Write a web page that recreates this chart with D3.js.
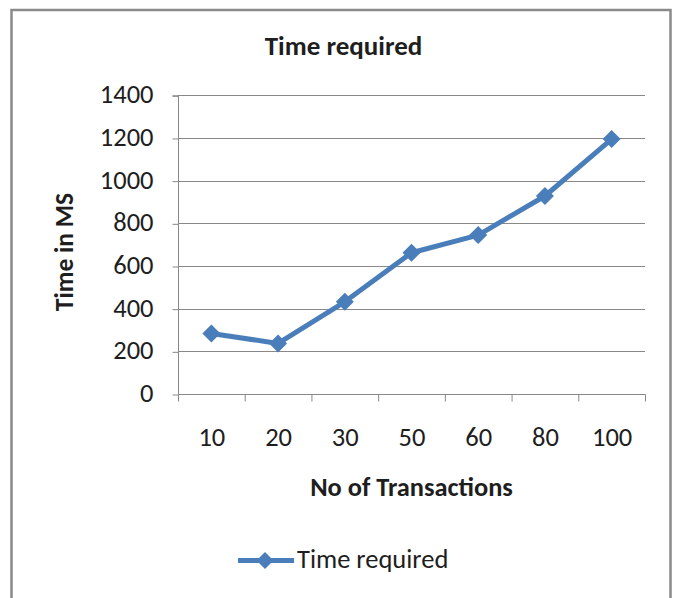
<!DOCTYPE html>
<html><head><meta charset="utf-8">
<script src="https://cdn.jsdelivr.net/npm/d3@7"></script>
<style>
html,body{margin:0;padding:0;background:#fff;}
svg{display:block;}
text{font-family:Carlito,"Liberation Sans Narrow","Liberation Sans",Arial,sans-serif;fill:#1e1e1e;}
</style></head>
<body>
<svg id="chart" width="674" height="598"></svg>
<script>
const categories = ["10","20","30","50","60","80","100"];
const timeRequired = [284, 237, 432, 662, 745, 928, 1195];
const yTicks = [0,200,400,600,800,1000,1200,1400];
const chartTitle = "Time required";
const xTitle = "No of Transactions";
const yTitle = "Time in MS";
const seriesName = "Time required";

const svg = d3.select("#chart");
const blue = "#4a7ebb";
const grid = "#888888";

// outer border
svg.append("rect").attr("x",11.5).attr("y",10).attr("width",659).attr("height",620)
  .attr("fill","none").attr("stroke","#8a8a8a").attr("stroke-width",2.5);

const L = 178, R = 645, T = 95.3, B = 394;
const x = d3.scaleBand().domain(categories).range([L,R]);
const y = d3.scaleLinear().domain([0,1400]).range([B,T]);

// gridlines
svg.append("g").selectAll("line").data(yTicks.filter(d=>d>0)).join("line")
  .attr("x1",L).attr("x2",R).attr("y1",d=>Math.round(y(d))+0.5).attr("y2",d=>Math.round(y(d))+0.5)
  .attr("stroke",grid).attr("stroke-width",1);

// y axis
const yAxis = d3.axisLeft(y).tickValues(yTicks).tickSize(6).tickPadding(19).tickFormat(d3.format("d"));
const gy = svg.append("g").attr("transform",`translate(${L+0.5},0.5)`).call(yAxis);
gy.select(".domain").attr("stroke",grid).attr("d",`M-6,${T}H0V${B}`);
gy.selectAll(".tick line").attr("stroke",grid);
gy.selectAll(".tick text").attr("font-size",26.5).attr("fill","#1e1e1e").attr("dy","0.27em");

// x axis
const gx = svg.append("g").attr("transform",`translate(0.5,${B+0.5})`);
gx.append("line").attr("x1",L).attr("x2",R).attr("stroke",grid);
const bounds = categories.map(c=>x(c)).concat([R]);
gx.selectAll(".tk").data(bounds).join("line").attr("class","tk")
  .attr("x1",d=>d).attr("x2",d=>d).attr("y1",0).attr("y2",7).attr("stroke",grid);
gx.selectAll(".lbl").data(categories).join("text").attr("class","lbl")
  .attr("x",d=>x(d)+x.bandwidth()/2).attr("y",51).attr("text-anchor","middle")
  .attr("font-size",26.5).text(d=>d);

// line
const line = d3.line().x((d,i)=>x(categories[i])+x.bandwidth()/2).y(d=>y(d));
svg.append("path").datum(timeRequired).attr("d",line)
  .attr("fill","none").attr("stroke",blue).attr("stroke-width",5).attr("stroke-linejoin","round");

const diamond = (cx,cy,r)=>`M${cx},${cy-r}L${cx+r},${cy}L${cx},${cy+r}L${cx-r},${cy}Z`;
svg.append("g").selectAll("path").data(timeRequired).join("path")
  .attr("d",(d,i)=>diamond(x(categories[i])+x.bandwidth()/2, y(d), 9))
  .attr("fill",blue);

// titles
svg.append("text").attr("x",343.5).attr("y",55).attr("text-anchor","middle")
  .attr("font-size",27).attr("font-weight","bold").attr("fill","#000").text(chartTitle);
svg.append("text").attr("x",411.5).attr("y",496).attr("text-anchor","middle")
  .attr("font-size",26.4).attr("font-weight","bold").attr("fill","#000").text(xTitle);
svg.append("text").attr("transform","translate(73,252) rotate(-90)").attr("text-anchor","middle")
  .attr("font-size",25.5).attr("font-weight","bold").attr("fill","#000").text(yTitle);

// legend
svg.append("line").attr("x1",238).attr("x2",294).attr("y1",560.5).attr("y2",560.5)
  .attr("stroke",blue).attr("stroke-width",5);
svg.append("path").attr("d",diamond(265,560.5,8.5)).attr("fill",blue);
svg.append("text").attr("x",297).attr("y",568).attr("font-size",26.5).text(seriesName);
</script>
</body></html>
